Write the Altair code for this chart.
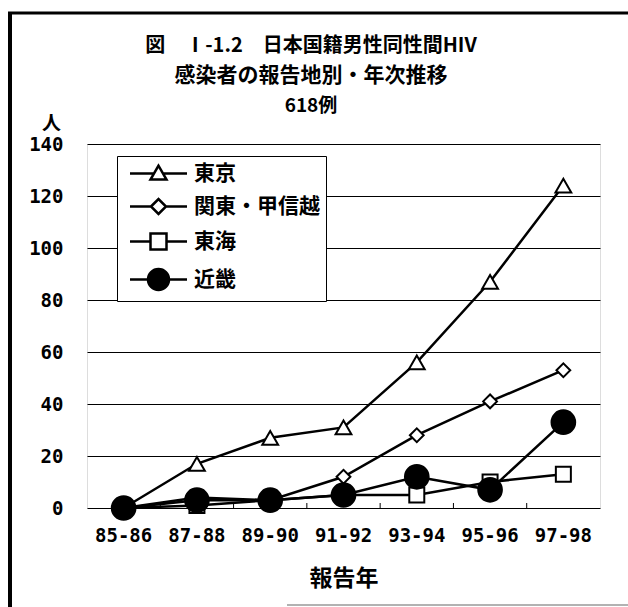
import altair as alt
import pandas as pd

# Reporting periods (two-year bins) and regions
periods = ["85-86", "87-88", "89-90", "91-92", "93-94", "95-96", "97-98"]
regions = ["東京", "関東・甲信越", "東海", "近畿"]

# Reported cases per period, by region
tokyo = [0, 17, 27, 31, 56, 87, 124]
kanto = [0, 4, 3, 12, 28, 41, 53]
tokai = [0, 1, 3, 5, 5, 10, 13]
kinki = [0, 3, 3, 5, 12, 7, 33]

title_lines = ["図　Ⅰ-1.2　日本国籍男性同性間HIV", "感染者の報告地別・年次推移", "618例"]
x_title = "報告年"
y_title = "人"

# Marker styling per region
marker_shapes = ["triangle-up", "diamond", "square", "circle"]
marker_sizes = [250, 190, 225, 560]
marker_fills = ["white", "white", "white", "black"]


def ring(r):
    """Closed circle of radius r built from four cubic segments."""
    k = round(0.5523 * r, 4)
    return (f"M{r},0C{r},{k},{k},{r},0,{r}C{-k},{r},{-r},{k},{-r},0"
            f"C{-r},{-k},{-k},{-r},0,{-r}C{k},{-r},{r},{-k},{r},0Z")


# Legend glyphs (unit = 10 px): a line stub with the marker in the middle.
# The filled dot is drawn as tight concentric rings so it reads as solid.
legend_shapes = [
    "M-2.85,0H-0.45M0.45,0H2.85M0,-0.78L-0.8,0.61L0.8,0.61Z",
    "M-2.85,0H-0.75M0.75,0H2.85M-0.75,0L0,-0.75L0.75,0L0,0.75Z",
    "M-2.85,0H-0.8M0.8,0H2.85M-0.8,-0.8H0.8V0.8H-0.8Z",
    "M-2.85,0H2.85" + "".join(ring(r) for r in [1.05, 0.82, 0.59, 0.36, 0.13]),
]

rows = []
for name, vals in zip(regions, [tokyo, kanto, tokai, kinki]):
    for p, v in zip(periods, vals):
        rows.append({"period": p, "region": name, "count": v})
df = pd.DataFrame(rows)

W, H = 513, 364
JP = "Noto Sans CJK JP"
NUM = "DejaVu Sans Mono"

x_scale = alt.Scale(type="band", domain=periods, paddingInner=0, paddingOuter=0)
x_axis = alt.Axis(
    title=x_title, domain=False, ticks=False, grid=False,
    labelFont=NUM, labelFontSize=19, labelFontWeight="bold", labelColor="black",
    labelPadding=18, labelAngle=0,
    titleFont=JP, titleFontSize=23, titleFontWeight="bold", titleColor="black",
    titleY=70, titleBaseline="middle",
)
x_enc = alt.X("period:N", sort=periods, bandPosition=0.5, scale=x_scale, axis=x_axis)
x_edge = alt.X("period:N", sort=periods, bandPosition=0, scale=x_scale, axis=x_axis)
y_enc = alt.Y(
    "count:Q",
    scale=alt.Scale(domain=[0, 140], nice=False, zero=True),
    axis=alt.Axis(
        values=list(range(0, 141, 20)), grid=True, gridColor="black", gridWidth=1,
        domain=False, ticks=False,
        labelFont=NUM, labelFontSize=19, labelFontWeight="bold", labelColor="black",
        labelPadding=24,
        title=y_title, titleAngle=0, titleX=-36, titleY=-21,
        titleAlign="center", titleBaseline="middle",
        titleFont=JP, titleFontSize=19, titleFontWeight="bold", titleColor="black",
    ),
)

base = alt.Chart(df)

lines = base.mark_line(color="black", strokeWidth=2.5).encode(
    x=x_enc, y=y_enc, detail="region:N"
)

# One marker layer per region
marker_layers = []
for name, shp, sz, fl in zip(regions, marker_shapes, marker_sizes, marker_fills):
    marker_layers.append(
        base.transform_filter(alt.datum.region == name)
        .mark_point(shape=shp, size=sz, filled=True, fill=fl, stroke="black",
                    strokeWidth=2, opacity=1)
        .encode(x=x_enc, y=y_enc)
    )

# Layer with no rows of its own; it only carries the legend
legend_layer = (
    base.transform_filter("false")
    .mark_point(filled=False, color="black", strokeWidth=2.5)
    .encode(
        x=x_enc,
        y=y_enc,
        shape=alt.Shape(
            "region:N",
            scale=alt.Scale(domain=regions, range=legend_shapes),
            legend=alt.Legend(
                title=None, orient="none", legendX=30, legendY=12,
                fillColor="white", strokeColor="black", padding=6,
                labelFont=JP, labelFontSize=21, labelFontWeight="bold", labelColor="black",
                labelOffset=24, symbolOffset=24, symbolSize=400,
                symbolStrokeWidth=2.5, symbolStrokeColor="black",
                symbolOpacity=1, rowPadding=9,
            ),
        ),
    )
)

# Small inward ticks on the category boundaries
tick_df = pd.DataFrame({"period": periods[1:]})
ticks = alt.Chart(tick_df).mark_rule(color="black", strokeWidth=1).encode(
    x=x_edge, y=alt.value(H), y2=alt.value(H - 5)
)

# Title block, three centred lines
one = pd.DataFrame({"k": [0]})
title_y = [46, 76, 106]
title_sizes = [20, 21, 19]
title_layers = [
    alt.Chart(one).mark_text(
        text=t, font=JP, fontSize=fs, fontWeight="bold", color="black",
        align="center", baseline="middle",
    ).encode(x=alt.value(224), y=alt.value(ty - 144))
    for t, ty, fs in zip(title_lines, title_y, title_sizes)
]

# Page frame: heavy left edge, top edge, faint bottom edge
frame_left = alt.Chart(one).mark_rule(color="black", strokeWidth=4).encode(
    x=alt.value(-77), y=alt.value(-131), y2=alt.value(470)
)
frame_top = alt.Chart(one).mark_rule(color="black", strokeWidth=3).encode(
    x=alt.value(-79), x2=alt.value(545), y=alt.value(-131)
)
frame_bottom = alt.Chart(one).mark_rule(color="#999999", strokeWidth=1.5).encode(
    x=alt.value(200), x2=alt.value(545), y=alt.value(461)
)

chart = (
    alt.layer(lines, *marker_layers, legend_layer, ticks, *title_layers,
              frame_left, frame_top, frame_bottom)
    .properties(
        width=W,
        height=H,
        autosize=alt.AutoSizeParams(type="none"),
        padding={"left": 87, "top": 144, "right": 28, "bottom": 99},
    )
    .configure_view(stroke="black", strokeWidth=2.5)
    .configure(background="white")
)

chart.save("out.html", embed_options={"renderer": "svg", "actions": False})
